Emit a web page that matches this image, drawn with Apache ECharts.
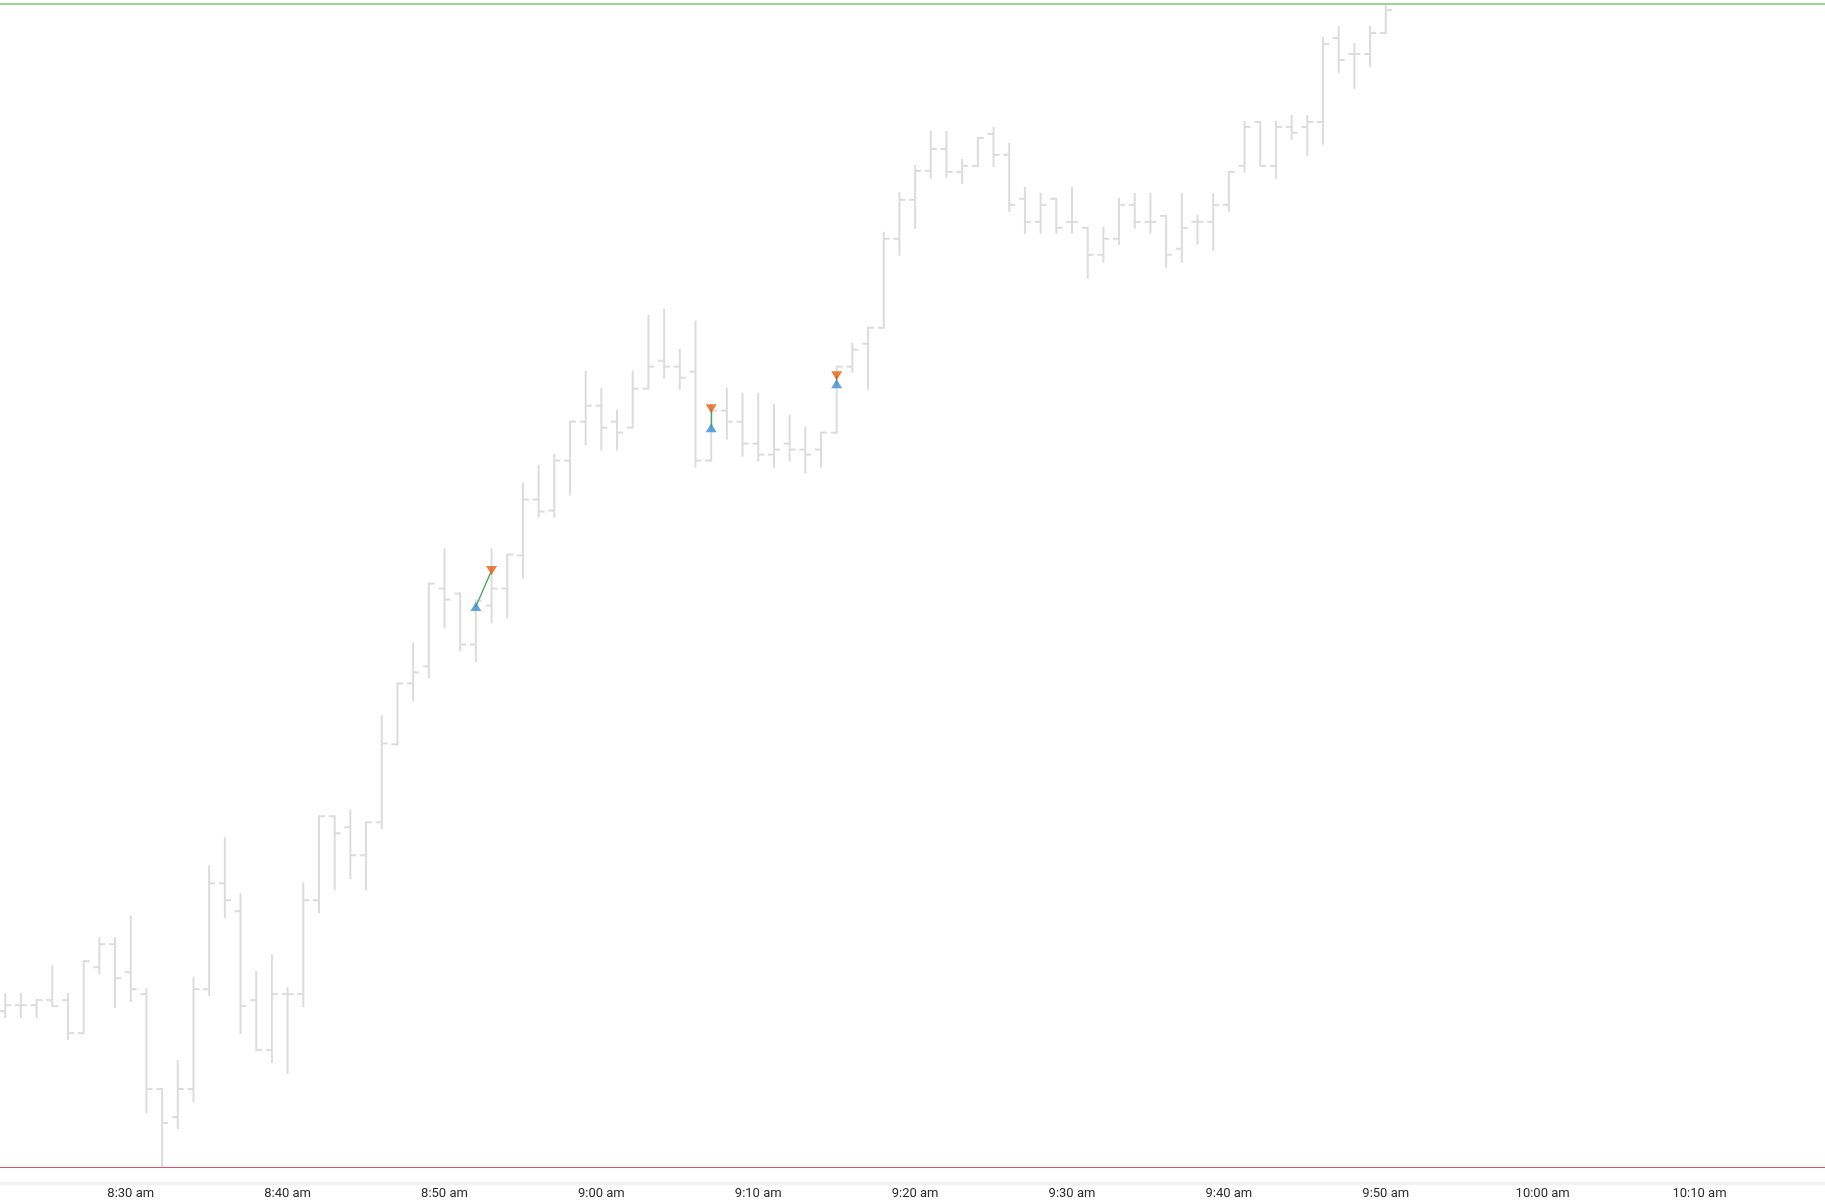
<!DOCTYPE html>
<html>
<head>
<meta charset="utf-8">
<script src="https://cdn.jsdelivr.net/npm/echarts@6/dist/echarts.min.js"></script>
<style>
html, body { margin: 0; padding: 0; background: #ffffff; }
#chart { width: 1825px; height: 1202px; }
</style>
</head>
<body>
<div id="chart"></div>
<script>
// ---- data ----
var sessionDate = '2024-03-05';
var barTimes = ['08:22','08:23','08:24','08:25','08:26','08:27','08:28','08:29','08:30','08:31',
  '08:32','08:33','08:34','08:35','08:36','08:37','08:38','08:39','08:40','08:41',
  '08:42','08:43','08:44','08:45','08:46','08:47','08:48','08:49','08:50','08:51',
  '08:52','08:53','08:54','08:55','08:56','08:57','08:58','08:59','09:00','09:01',
  '09:02','09:03','09:04','09:05','09:06','09:07','09:08','09:09','09:10','09:11',
  '09:12','09:13','09:14','09:15','09:16','09:17','09:18','09:19','09:20','09:21',
  '09:22','09:23','09:24','09:25','09:26','09:27','09:28','09:29','09:30','09:31',
  '09:32','09:33','09:34','09:35','09:36','09:37','09:38','09:39','09:40','09:41',
  '09:42','09:43','09:44','09:45','09:46','09:47','09:48','09:49','09:50'];
var opens = [4115.6,4116.2,4116.2,4116.7,4116.7,4113.4,4120.0,4122.3,4119.5,4117.3,
  4107.8,4105.0,4107.8,4117.8,4128.4,4125.6,4116.7,4111.7,4117.3,4117.3,
  4126.7,4135.1,4134.0,4131.2,4134.5,4142.3,4148.4,4150.1,4157.9,4157.4,
  4152.3,4156.2,4157.9,4161.2,4166.8,4165.7,4170.7,4174.6,4176.2,4174.6,
  4174.0,4177.9,4180.7,4180.1,4179.6,4170.7,4175.7,4174.6,4172.4,4171.3,
  4172.4,4171.8,4171.8,4173.5,4180.1,4182.4,4184.0,4192.9,4196.8,4199.7,
  4201.9,4199.6,4200.2,4203.4,4201.3,4196.9,4194.6,4196.9,4194.6,4194.0,
  4191.3,4192.9,4196.3,4194.6,4195.2,4191.9,4194.6,4194.6,4196.3,4200.2,
  4204.6,4200.2,4204.1,4204.1,4204.6,4213.0,4211.4,4211.4,4213.5];
var highs = [4117.3,4117.3,4116.7,4120.1,4117.3,4120.6,4122.9,4122.9,4125.1,4117.8,
  4107.8,4110.6,4118.9,4130.1,4132.9,4127.3,4119.5,4121.2,4117.9,4128.4,
  4135.1,4135.1,4135.7,4134.5,4145.1,4148.4,4152.4,4158.4,4161.8,4157.4,
  4156.7,4161.8,4161.3,4168.4,4170.2,4171.3,4174.6,4179.6,4177.9,4175.7,
  4179.6,4185.2,4185.8,4181.8,4184.6,4176.2,4177.9,4177.4,4177.4,4176.3,
  4175.2,4174.0,4173.5,4180.1,4182.4,4184.0,4193.5,4197.5,4200.2,4203.6,
  4203.6,4200.8,4203.0,4204.0,4202.4,4198.0,4197.4,4196.9,4198.0,4194.0,
  4194.0,4196.9,4197.4,4197.4,4195.2,4197.4,4195.2,4197.4,4199.6,4204.6,
  4204.6,4204.6,4205.2,4205.2,4213.0,4214.1,4212.4,4214.1,4216.4];
var lows = [4115.0,4115.0,4115.0,4116.1,4112.8,4113.4,4119.4,4116.0,4116.6,4105.5,
  4100.0,4103.9,4106.6,4117.2,4125.0,4113.4,4111.7,4110.5,4109.4,4116.1,
  4125.5,4127.8,4128.9,4127.8,4133.9,4142.3,4146.7,4149.0,4154.0,4151.7,
  4150.6,4154.5,4155.0,4159.0,4165.1,4165.1,4167.3,4172.3,4171.8,4171.8,
  4174.0,4177.9,4179.0,4177.9,4170.1,4170.7,4172.9,4171.2,4170.7,4170.1,
  4170.7,4169.5,4170.1,4173.5,4179.6,4177.9,4184.0,4191.3,4194.0,4199.0,
  4199.1,4198.5,4200.2,4200.2,4195.7,4193.5,4193.5,4193.5,4193.5,4189.0,
  4190.6,4192.4,4194.0,4193.5,4190.1,4190.6,4192.4,4191.8,4195.7,4199.6,
  4200.2,4199.0,4202.9,4201.3,4202.4,4209.6,4208.0,4210.2,4213.5];
var closes = [4116.2,4116.2,4116.7,4116.1,4113.4,4120.6,4122.3,4118.9,4117.8,4107.8,
  4104.4,4107.8,4117.8,4128.4,4126.7,4116.1,4111.7,4117.3,4117.3,4126.7,
  4135.1,4133.4,4131.2,4134.5,4142.4,4148.4,4149.5,4158.4,4156.8,4152.3,
  4156.7,4157.9,4161.3,4166.8,4165.6,4170.7,4174.6,4176.2,4174.0,4173.5,
  4177.9,4180.1,4180.1,4179.0,4170.7,4175.7,4174.6,4172.4,4171.3,4171.8,
  4171.8,4171.3,4173.5,4180.1,4181.8,4184.0,4192.9,4196.8,4199.7,4201.9,
  4199.6,4200.2,4203.0,4201.3,4196.3,4194.6,4196.3,4194.0,4194.6,4191.3,
  4192.9,4196.3,4194.6,4194.6,4191.3,4194.0,4194.6,4196.3,4199.6,4204.1,
  4200.2,4204.1,4203.5,4204.6,4212.4,4210.8,4211.4,4213.5,4215.8];

var buyTimes = ['08:52','09:07','09:15'];
var buyPrices = [4156.1, 4174.0, 4178.4];
var sellTimes = ['08:53','09:07','09:15'];
var sellPrices = [4159.7, 4175.9, 4179.2];

var axisStart = '08:21:40';
var axisEnd = '10:18:00';
var labelStepMinutes = 10;
var priceAxisMin = 4098.4;
var priceAxisMax = 4216.8;

// ---- build ----
function ts(t) {
  if (t.length === 5) t = t + ':00';
  return new Date(sessionDate + 'T' + t).getTime();
}
var barData = barTimes.map(function (t, i) {
  return [ts(t), opens[i], highs[i], lows[i], closes[i]];
});
var buyData = buyTimes.map(function (t, i) { return [ts(t), buyPrices[i]]; });
var sellData = sellTimes.map(function (t, i) { return [ts(t), sellPrices[i]]; });
var tradeLines = buyTimes.map(function (t, i) {
  return { coords: [[ts(t), buyPrices[i]], [ts(sellTimes[i]), sellPrices[i]]] };
});
var maxHigh = Math.max.apply(null, highs);
var minLow = Math.min.apply(null, lows);

var chart = echarts.init(document.getElementById('chart'), null, { renderer: 'canvas' });

function fmtTime(v) {
  var d = new Date(v);
  var h = d.getHours(), m = d.getMinutes();
  if (m % labelStepMinutes !== 0 || d.getSeconds() !== 0) return '';
  var ap = h < 12 ? 'am' : 'pm';
  var h12 = h % 12 || 12;
  return h12 + ':' + (m < 10 ? '0' + m : m) + ' ' + ap;
}

var barStyle = { stroke: '#dcdcdc', lineWidth: 2 };

chart.setOption({
  animation: false,
  backgroundColor: '#ffffff',
  grid: { left: 0, right: 0, top: 0, bottom: 19, containLabel: false },
  xAxis: {
    type: 'time',
    min: ts(axisStart),
    max: ts(axisEnd),
    splitNumber: 12,
    axisLine: { show: true, lineStyle: { color: '#f1f1f1', width: 3 } },
    axisTick: { show: false },
    splitLine: { show: false },
    axisLabel: {
      formatter: fmtTime,
      fontFamily: 'Roboto',
      fontSize: 13,
      color: '#2b2b2b',
      margin: 4,
      showMinLabel: false,
      showMaxLabel: false,
      hideOverlap: false
    }
  },
  yAxis: {
    type: 'value',
    min: priceAxisMin,
    max: priceAxisMax,
    show: false,
    splitLine: { show: false }
  },
  series: [
    {
      type: 'custom',
      name: 'bars',
      data: barData,
      encode: { x: 0, y: [1, 2, 3, 4] },
      renderItem: function (params, api) {
        var x = api.value(0);
        var pH = api.coord([x, api.value(2)]);
        var pL = api.coord([x, api.value(3)]);
        var pO = api.coord([x, api.value(1)]);
        var pC = api.coord([x, api.value(4)]);
        var w = 6;
        return {
          type: 'group',
          children: [
            { type: 'line', shape: { x1: pH[0], y1: pH[1] - 1, x2: pL[0], y2: pL[1] + 1 }, style: barStyle },
            { type: 'line', shape: { x1: pO[0] - w, y1: pO[1], x2: pO[0], y2: pO[1] }, style: barStyle },
            { type: 'line', shape: { x1: pC[0], y1: pC[1], x2: pC[0] + w, y2: pC[1] }, style: barStyle }
          ]
        };
      },
      markLine: {
        silent: true,
        symbol: 'none',
        label: { show: false },
        data: [
          { yAxis: maxHigh, lineStyle: { color: '#9dd39d', width: 2, type: 'solid' } },
          { yAxis: minLow, lineStyle: { color: '#e0506b', width: 1.2, type: 'solid' } }
        ]
      },
      z: 2
    },
    {
      type: 'lines',
      name: 'trades',
      coordinateSystem: 'cartesian2d',
      data: tradeLines,
      lineStyle: { color: '#3cab55', width: 1.3, opacity: 1 },
      z: 3
    },
    {
      type: 'scatter',
      name: 'buy',
      data: buyData,
      symbol: 'triangle',
      symbolSize: [11, 9],
      itemStyle: { color: '#3c8fcf' },
      z: 4
    },
    {
      type: 'scatter',
      name: 'sell',
      data: sellData,
      symbol: 'triangle',
      symbolRotate: 180,
      symbolSize: [11, 9],
      itemStyle: { color: '#e65f10' },
      z: 4
    }
  ]
});
</script>
</body>
</html>
